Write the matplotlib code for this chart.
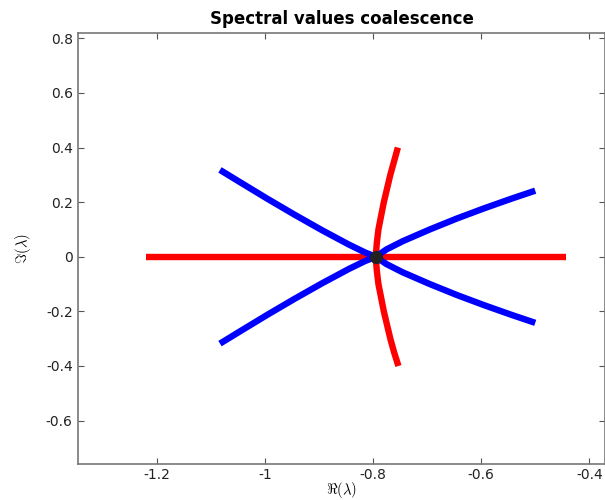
import matplotlib
matplotlib.use("Agg")
import matplotlib.pyplot as plt

plt.rcParams['font.family'] = ['DejaVu Sans']
plt.rcParams['mathtext.fontset'] = 'cm'

# Red horizontal branch (real eigenvalues)
red_h_x = [-1.220, -0.443]
red_h_y = [0.0, 0.0]

# Red curved branch
red_c_y = [-0.40, -0.35, -0.30, -0.25, -0.20, -0.15, -0.10, -0.05, 0.0,
           0.05, 0.10, 0.15, 0.20, 0.25, 0.30, 0.35, 0.40]
red_c_x = [-0.753, -0.761, -0.768, -0.774, -0.780, -0.785, -0.790, -0.793, -0.795,
           -0.793, -0.790, -0.785, -0.780, -0.774, -0.768, -0.761, -0.754]

# Blue branches
blue_l_x = [-1.083, -1.045, -0.995, -0.945, -0.895, -0.845, -0.815, -0.795]
blue_ul_y = [0.318, 0.272, 0.212, 0.154, 0.098, 0.045, 0.016, 0.0]
blue_ll_y = [-0.318, -0.272, -0.212, -0.154, -0.098, -0.045, -0.016, 0.0]
blue_r_x = [-0.795, -0.775, -0.745, -0.695, -0.645, -0.595, -0.545, -0.500]
blue_ur_y = [0.0, 0.027, 0.057, 0.100, 0.140, 0.177, 0.212, 0.242]
blue_lr_y = [0.0, -0.027, -0.057, -0.100, -0.140, -0.177, -0.212, -0.242]

# Coalescence point
pt_x = [-0.795]
pt_y = [0.0]

xticks = [-1.2, -1.0, -0.8, -0.6, -0.4]
xticklabels = ['-1.2', '-1', '-0.8', '-0.6', '-0.4']
yticks = [-0.6, -0.4, -0.2, 0.0, 0.2, 0.4, 0.6, 0.8]
yticklabels = ['-0.6', '-0.4', '-0.2', '0', '0.2', '0.4', '0.6', '0.8']

fig = plt.figure(figsize=(6.05, 5.0), dpi=100)
ax = fig.add_axes([78.3/605, (500-464.3)/500, (605-78.3)/605, (464.3-32.7)/500])

lw = 4.6
ax.plot(red_h_x, red_h_y, color='#ff0000', lw=lw, solid_capstyle='butt', zorder=2)
ax.plot(red_c_x, red_c_y, color='#ff0000', lw=lw, solid_capstyle='butt', zorder=2)
for xs, ys in [(blue_l_x, blue_ul_y), (blue_r_x, blue_ur_y),
               (blue_l_x, blue_ll_y), (blue_r_x, blue_lr_y)]:
    ax.plot(xs, ys, color='#0000ff', lw=lw, solid_capstyle='butt', zorder=3)
ax.plot(pt_x, pt_y, 'o', color='#222222', markersize=8.5, zorder=4)

ax.set_xlim(-1.345, -0.371)
ax.set_ylim(-0.760, 0.8205)
ax.set_xticks(xticks)
ax.set_xticklabels(xticklabels)
ax.set_yticks(yticks)
ax.set_yticklabels(yticklabels)
ax.tick_params(direction='in', length=4, width=0.8, color='#555555',
               labelsize=10, top=True, right=True, labelcolor='#222222')
ax.tick_params(axis='x', pad=2.5)
ax.tick_params(axis='y', pad=4)
for s in ax.spines.values():
    s.set_color('#777777')
    s.set_linewidth(1.2)

ax.set_title('Spectral values coalescence', fontsize=12, fontweight='bold', pad=6)
ax.set_xlabel(r'$\Re(\lambda)$', fontsize=10.5)
ax.set_ylabel(r'$\Im(\lambda)$', fontsize=10.5)
ax.xaxis.set_label_coords(0.5, -0.036)
ax.yaxis.set_label_coords(-0.086, 0.5)

fig.savefig('out.png', dpi=100)
